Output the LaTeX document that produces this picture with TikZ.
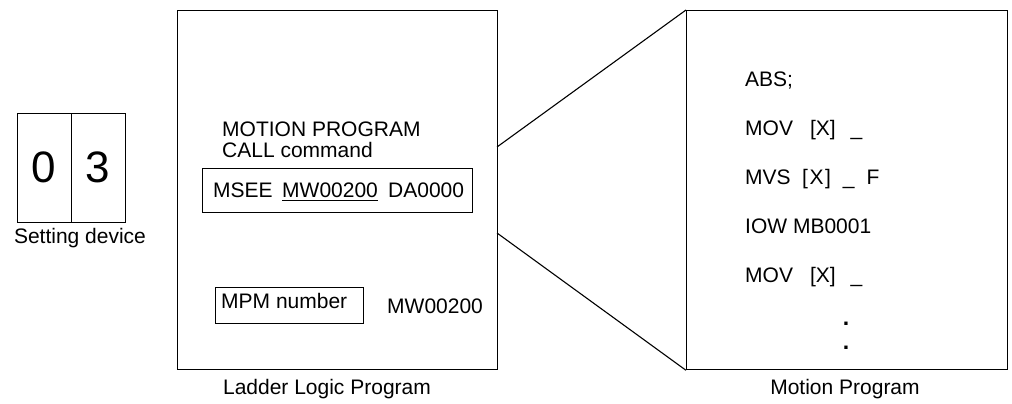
\documentclass[tikz,border=0pt]{standalone}
\usepackage{fontspec}
\setmainfont{Liberation Sans}
\begin{document}
\begin{tikzpicture}[x=1pt,y=-1pt,
  box/.style={draw,line width=1.3pt,inner sep=0pt,anchor=north west},
  txt/.style={inner sep=0pt,anchor=base west,font=\fontsize{21}{25}\selectfont},
  ctxt/.style={txt,anchor=base},
  link/.style={line width=1.1pt}]
\useasboundingbox (0,0) rectangle (1012,404);
% setting device
\node[box,minimum width=108pt,minimum height=109pt] (sd) at (17,113) {};
\draw[line width=1.3pt] (sd.north) -- (sd.south);
\node[ctxt,font=\fontsize{44}{50}\selectfont] (d0) at (44,182) {0};
\node[ctxt,font=\fontsize{44}{50}\selectfont] (d3) at (98,182) {3};
\node[ctxt] (sdl) at (80,243) {Setting device};
% ladder logic program
\node[box,minimum width=320pt,minimum height=359pt] (lad) at (177,10) {};
\node[txt] (mp1) at (222,136) {MOTION PROGRAM};
\node[txt] (mp2) at (222,157) {CALL command};
\node[box,minimum width=270pt,minimum height=44pt] (msee) at (202,168) {};
\node[txt] (ms) at (213,197) {MSEE};
\node[txt] (mw) at (282,197) {MW00200};
\draw[line width=1pt] ([yshift=-3pt]mw.base west) -- ([yshift=-3pt]mw.base east);
\node[txt] (da) at (388,197) {DA0000};
\node[box,minimum width=148pt,minimum height=36pt] (mpm) at (215,287) {};
\node[txt] (mpmt) at (221,308) {MPM number};
\node[txt] (mw2) at (387,313) {MW00200};
\node[ctxt] (ladl) at (327,394) {Ladder Logic Program};
% motion program
\node[box,minimum width=321pt,minimum height=359pt] (mot) at (686,10) {};
\node[txt] (l1) at (745,87) {ABS;};
\node[txt] (l2) at (745,135) {MOV\hspace{17pt}[X]\hspace{15pt}\_};
\node[txt] (l3) at (745,184) {MVS\hspace{11.5pt}[\hspace{1.5pt}X\hspace{1.5pt}]\hspace{12pt}\_\hspace{12pt}F};
\node[txt] (l4) at (745,233) {IOW MB0001};
\node[txt] (l5) at (745,282) {MOV\hspace{17pt}[X]\hspace{15pt}\_};
\node[ctxt,font=\fontsize{23}{25}\selectfont\bfseries] (dt1) at (846,325) {.};
\node[ctxt,font=\fontsize{23}{25}\selectfont\bfseries] (dt2) at (846,349) {.};
\node[ctxt] (motl) at (845,394) {Motion Program};
% connectors
\coordinate (c1) at (497,147);
\coordinate (c2) at (497,233);
\draw[link] (c1) -- (mot.north west);
\draw[link] (c2) -- (mot.south west);
\end{tikzpicture}
\end{document}
